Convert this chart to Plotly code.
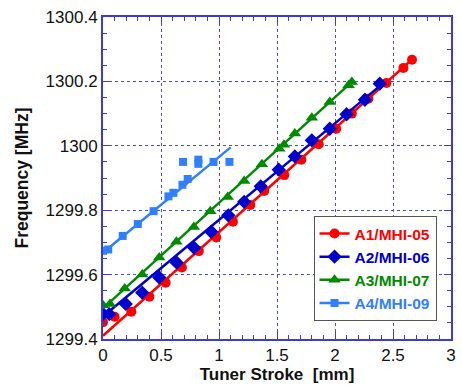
import plotly.graph_objects as go

# ---- data ----
a1_x = [0.0, 0.10, 0.244, 0.40, 0.54, 0.68, 0.826, 0.976, 1.12, 1.27, 1.39, 1.563, 1.71, 1.86, 2.01, 2.145, 2.287, 2.443, 2.59, 2.664]
a1_y = [1299.452, 1299.469, 1299.485, 1299.531, 1299.575, 1299.622, 1299.673, 1299.715, 1299.764, 1299.816, 1299.86,
        1299.909, 1299.957, 1300.005, 1300.053, 1300.10, 1300.146, 1300.195, 1300.242, 1300.267]
a2_x = [0.0, 0.054, 0.196, 0.338, 0.485, 0.636, 0.786, 0.933, 1.08, 1.217, 1.36, 1.515, 1.654, 1.80, 1.955, 2.10, 2.258, 2.386]
a2_y = [1299.478, 1299.477, 1299.509, 1299.544, 1299.591, 1299.637, 1299.683, 1299.733, 1299.784, 1299.826, 1299.874,
        1299.926, 1299.967, 1300.017, 1300.053, 1300.098, 1300.143, 1300.193]
a3_x = [0.0, 0.06, 0.187, 0.338, 0.485, 0.633, 0.783, 0.925, 1.075, 1.217, 1.37, 1.52, 1.56, 1.654, 1.80, 1.955, 2.117, 2.145]
a3_y = [1299.505, 1299.509, 1299.557, 1299.600, 1299.653, 1299.702, 1299.748, 1299.797, 1299.841, 1299.891, 1299.943,
        1299.991, 1300.003, 1300.038, 1300.087, 1300.136, 1300.188, 1300.198]
a4_x = [0.0, 0.045, 0.170, 0.300, 0.436, 0.564, 0.607, 0.685, 0.730, 0.690, 0.822, 0.822, 0.953, 1.09]
a4_y = [1299.674, 1299.678, 1299.720, 1299.757, 1299.797, 1299.843, 1299.854, 1299.879, 1299.897, 1299.950, 1299.957,
        1299.944, 1299.950, 1299.950]

# fitted lines (endpoints)
fit1_x = [0.0, 2.664]; fit1_y = [1299.410, 1300.268]
fit2_x = [0.0, 2.39];  fit2_y = [1299.470, 1300.187]
fit3_x = [0.0, 2.15];  fit3_y = [1299.495, 1300.200]
fit4_x = [0.0, 1.10];  fit4_y = [1299.668, 1299.995]

names = ["A1/MHI-05", "A2/MHI-06", "A3/MHI-07", "A4/MHI-09"]
colors = ["#ff0000", "#0000cc", "#008a00", "#2f7fff"]
symbols = ["circle", "diamond", "triangle-up", "square"]
sizes = [10, 11, 11, 8]

x_ticks = [0, 0.5, 1, 1.5, 2, 2.5, 3]
x_ticktext = ["0", "0.5", "1", "1.5", "2", "2.5", "3"]
y_ticks = [1299.4, 1299.6, 1299.8, 1300.0, 1300.2, 1300.4]
y_ticktext = ["1299.4", "1299.6", "1299.8", "1300", "1300.2", "1300.4"]

series = [(a1_x, a1_y, fit1_x, fit1_y), (a2_x, a2_y, fit2_x, fit2_y),
          (a3_x, a3_y, fit3_x, fit3_y), (a4_x, a4_y, fit4_x, fit4_y)]

fig = go.Figure()
for i, (sx, sy, fx, fy) in enumerate(series):
    fig.add_trace(go.Scatter(x=fx, y=fy, mode="lines", line=dict(color=colors[i], width=2.5),
                             showlegend=False, hoverinfo="skip"))
    fig.add_trace(go.Scatter(x=sx, y=sy, mode="markers",
                             marker=dict(symbol=symbols[i], size=sizes[i], color=colors[i]),
                             showlegend=False))
for i in range(4):
    fig.add_trace(go.Scatter(x=[None], y=[None], mode="lines+markers",
                             line=dict(color=colors[i], width=2.5),
                             marker=dict(symbol=symbols[i], size=sizes[i], color=colors[i]),
                             name=f"<b><span style='color:{colors[i]}'>{names[i]}</span></b>"))

axis_color = "#3a3ae0"
grid_color = "#4a4ae8"
common = dict(showline=True, linecolor=axis_color, linewidth=2, mirror="ticks",
              ticks="inside", ticklen=7, tickcolor=axis_color, tickwidth=1,
              showgrid=True, gridcolor=grid_color, griddash="dot", gridwidth=1,
              zeroline=False,
              tickfont=dict(family="Liberation Sans, Arial", size=17, color="#111"))

fig.update_xaxes(range=[0, 3], tickvals=x_ticks, ticktext=x_ticktext,
                 minor=dict(ticks="inside", ticklen=4, dtick=0.1, tick0=0, tickcolor=axis_color, showgrid=False),
                 title=dict(text="<b>Tuner Stroke  [mm]</b>", font=dict(family="Liberation Sans, Arial", size=17, color="#111"), standoff=4),
                 **common)
fig.update_yaxes(range=[1299.4, 1300.4], tickvals=y_ticks, ticktext=y_ticktext,
                 minor=dict(ticks="inside", ticklen=4, dtick=0.05, tick0=1299.4, tickcolor=axis_color, showgrid=False),
                 title=dict(text="<b>Frequency [MHz]</b>", font=dict(family="Liberation Sans, Arial", size=17.5, color="#111"), standoff=12),
                 **common)

fig.update_layout(
    width=462, height=388,
    margin=dict(l=103, r=6, t=17, b=49),
    plot_bgcolor="white", paper_bgcolor="white",
    legend=dict(x=0.605, y=0.382, xanchor="left", yanchor="top",
                bgcolor="white", bordercolor="#555", borderwidth=1,
                font=dict(family="Liberation Sans, Arial", size=15.5),
                itemwidth=30, tracegroupgap=0),
)

fig.write_html("out.html")
